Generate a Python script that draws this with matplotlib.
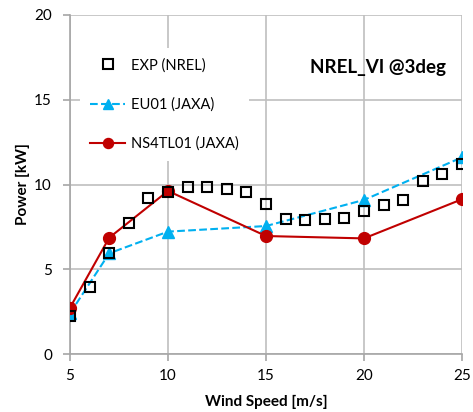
import matplotlib.pyplot as plt

# data
exp_speed = [5, 6, 7, 8, 9, 10, 11, 12, 13, 14, 15, 16, 17, 18, 19, 20, 21, 22, 23, 24, 25]
exp_power = [2.26, 3.97, 5.98, 7.75, 9.22, 9.54, 9.83, 9.83, 9.75, 9.54, 8.87,
             7.96, 7.89, 7.96, 8.04, 8.42, 8.79, 9.09, 10.2, 10.6, 11.19]

cfd_speed = [5, 7, 10, 15, 20, 25]
eu01_power = [2.4, 5.94, 7.22, 7.55, 9.09, 11.6]
ns4tl01_power = [2.73, 6.86, 9.62, 6.96, 6.82, 9.13]

x_ticks = [5, 10, 15, 20, 25]
y_ticks = [0, 5, 10, 15, 20]

plt.rcParams['font.family'] = ['Lato', 'DejaVu Sans']
plt.rcParams['font.size'] = 11

fig = plt.figure(figsize=(4.73, 4.12), dpi=100)
ax = fig.add_axes([70 / 473, 58 / 412, 392 / 473, 339 / 412])

ax.plot(cfd_speed, eu01_power, color='#00B0F0', ls='--', lw=1.5, marker='^',
        ms=8.5, label='EU01 (JAXA)', zorder=3)
ax.plot(cfd_speed, ns4tl01_power, color='#C00000', ls='-', lw=1.5, marker='o',
        ms=8.5, label='NS4TL01 (JAXA)', zorder=3)
ax.plot(exp_speed, exp_power, ls='', marker='s', ms=7.8, mfc='none', mec='black',
        mew=1.5, label='EXP (NREL)', zorder=4)

ax.set_xlim(5, 25)
ax.set_ylim(0, 20)
ax.set_xticks(x_ticks)
ax.set_yticks(y_ticks)
ax.grid(True, color='#BFBFBF', lw=1.2)
ax.set_axisbelow(True)
for side in ['top', 'right']:
    ax.spines[side].set_visible(False)
for side in ['left', 'bottom']:
    ax.spines[side].set_color('#A6A6A6')
    ax.spines[side].set_linewidth(1.2)
ax.tick_params(color='#A6A6A6', length=5, width=1.2, labelsize=11)
ax.tick_params(axis='x', pad=6)
ax.tick_params(axis='y', pad=8)
for lab in ax.get_xticklabels() + ax.get_yticklabels():
    lab.set_clip_on(False)

ax.set_xlabel('Wind Speed [m/s]', fontweight='bold', fontsize=11, labelpad=8)
ax.set_ylabel('Power [kW]', fontweight='bold', fontsize=11, labelpad=3)

ax.text(0.96, 0.845, 'NREL_VI @3deg', transform=ax.transAxes, ha='right',
        va='center', fontweight='bold', fontsize=13.5)

handles, labels = ax.get_legend_handles_labels()
order = [2, 0, 1]
leg = ax.legend([handles[i] for i in order], [labels[i] for i in order],
                loc='upper left', bbox_to_anchor=(80 / 473, 1 - 48 / 412),
                bbox_transform=fig.transFigure, frameon=True, facecolor='white',
                edgecolor='none', framealpha=1, fancybox=False, fontsize=10.5,
                handlelength=2.4, handletextpad=0.4, labelspacing=1.7,
                borderpad=0.7, borderaxespad=0, markerscale=0.85)

fig.savefig('out.png', dpi=100)
